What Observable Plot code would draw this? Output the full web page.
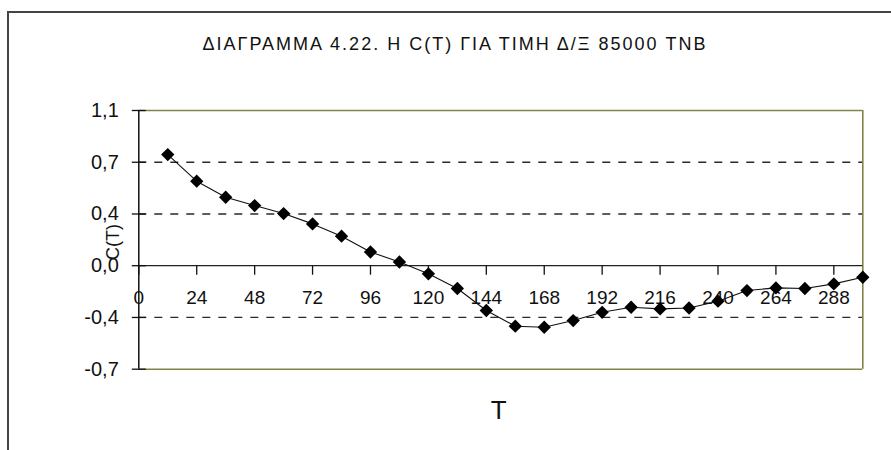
<!DOCTYPE html>
<html>
<head>
<meta charset="utf-8">
<script src="https://cdn.jsdelivr.net/npm/d3@7"></script>
<script src="https://cdn.jsdelivr.net/npm/@observablehq/plot@0.6"></script>
<style>
  body { margin: 0; background: #fff; }
  #chart { position: relative; width: 891px; height: 450px; overflow: hidden; font-family: Arial, "Liberation Sans", sans-serif; color: #111; }
  #border { position: absolute; left: 7px; top: 11px; width: 920px; height: 480px; border-left: 2px solid #444; border-top: 2px solid #444; box-sizing: border-box; }
  #title { position: absolute; left: 0; top: 34px; width: 910px; text-align: center; font-size: 18px; letter-spacing: 2px; white-space: nowrap; }
  #ylabel { position: absolute; left: 113px; top: 242px; font-size: 18px; white-space: nowrap; transform: translate(-50%, -50%) rotate(-90deg); }
  #plot { position: absolute; left: 0; top: 0; }
</style>
</head>
<body>
<div id="chart">
  <div id="border"></div>
  <div id="plot"></div>
  <div id="title"></div>
  <div id="ylabel"></div>
</div>
<script>
// Lag T and autocorrelation C(T)
const lags = [12, 24, 36, 48, 60, 72, 84, 96, 108, 120, 132, 144, 156, 168, 180, 192, 204, 216, 228, 240, 252, 264, 276, 288, 300];
const corr = [0.752, 0.572, 0.463, 0.407, 0.353, 0.283, 0.200, 0.093, 0.025, -0.055, -0.154, -0.303, -0.409, -0.416, -0.371, -0.315, -0.281, -0.292, -0.286, -0.240, -0.168, -0.150, -0.154, -0.123, -0.078];

const xTicks = [0, 24, 48, 72, 96, 120, 144, 168, 192, 216, 240, 264, 288];
const yTicks = [1.05, 0.7, 0.35, 0, -0.35, -0.7];
const yTickLabels = ["1,1", "0,7", "0,4", "0,0", "-0,4", "-0,7"];
const gridValues = [0.7, 0.35, -0.35];

const titleText = "ΔΙΑΓΡΑΜΜΑ 4.22. Η C(T) ΓΙΑ ΤΙΜΗ Δ/Ξ 85000 TNB";
const yLabel = "C(T)";
const xLabel = "T";

const data = lags.map((T, i) => ({T, C: corr[i]}));

document.getElementById("title").textContent = titleText;
document.getElementById("ylabel").textContent = yLabel;

// tick shapes drawn as custom symbols
const crossTick = {draw(ctx) { ctx.moveTo(-7, 0); ctx.lineTo(7, 0); }};
const downTick = {draw(ctx) { ctx.moveTo(0, 0); ctx.lineTo(0, 9); }};

const olive = "#83834a";
const font = "Arial, 'Liberation Sans', sans-serif";

const chart = Plot.plot({
  width: 891,
  height: 450,
  marginTop: 110,
  marginBottom: 81.3,
  marginLeft: 138.3,
  marginRight: 28.7,
  style: {fontFamily: font, background: "transparent", color: "#111"},
  x: {domain: [0, 300], axis: null},
  y: {domain: [-0.7, 1.05], axis: null},
  marks: [
    Plot.ruleY(gridValues, {stroke: "#2a2a2a", strokeWidth: 1.3, strokeDasharray: "8,8"}),
    Plot.ruleY([1.05, -0.7], {stroke: olive, strokeWidth: 1.6}),
    Plot.ruleX([300], {stroke: olive, strokeWidth: 1.6}),
    Plot.ruleY([0], {stroke: "#222", strokeWidth: 1.3}),
    Plot.ruleX([0], {stroke: "#111", strokeWidth: 1.5}),
    Plot.dot(yTicks, {x: 0, y: d => d, symbol: crossTick, fill: "none", stroke: "#111", strokeWidth: 1.3}),
    Plot.dot(xTicks, {x: d => d, y: 0, symbol: downTick, fill: "none", stroke: "#111", strokeWidth: 1.3}),
    Plot.text(yTicks, {x: 0, y: d => d, text: (d, i) => yTickLabels[i], textAnchor: "end", dx: -20, fontSize: 20, fill: "#111"}),
    Plot.text(xTicks, {x: d => d, y: 0, text: d => String(d), dy: 32, fontSize: 19, fill: "#111"}),
    Plot.line(data, {x: "T", y: "C", stroke: "#111", strokeWidth: 1.1}),
    Plot.dot(data, {x: "T", y: "C", symbol: "diamond2", r: 6, fill: "#000", stroke: "none"}),
    Plot.text([xLabel], {frameAnchor: "bottom", text: d => d, dx: -2, dy: 50, fontSize: 26, fill: "#111"})
  ]
});
document.getElementById("plot").appendChild(chart);
</script>
</body>
</html>
